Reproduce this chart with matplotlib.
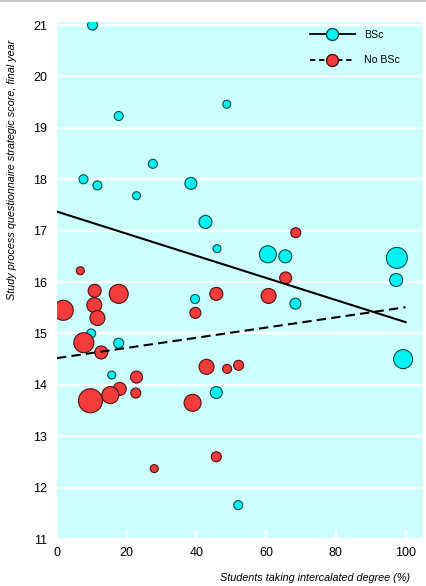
import numpy as np
import matplotlib
matplotlib.use("Agg")
import matplotlib.pyplot as plt
from matplotlib.lines import Line2D

# Intercalated BSc vs strategic score, one bubble per medical school

# BSc students (cyan)
bsc_x = [10.2, 17.7, 48.7, 7.6, 11.6, 27.5, 22.8, 38.4, 42.6, 45.9, 60.5,
         65.5, 97.5, 97.3, 68.4, 39.6, 9.8, 17.7, 15.7, 99.3, 45.7, 52.0]
bsc_y = [21.0, 19.23, 19.46, 18.0, 17.88, 18.30, 17.68, 17.92, 17.17, 16.65, 16.54,
         16.50, 16.47, 16.04, 15.58, 15.67, 15.0, 14.81, 14.19, 14.50, 13.85, 11.66]
bsc_n = [10, 9, 8, 9, 9, 9, 8, 12, 13, 8, 17,
         13, 21, 13, 11, 9, 9, 10, 8, 19, 12, 9]

# No BSc students (red)
nobsc_x = [6.7, 10.8, 17.7, 1.8, 10.7, 11.6, 7.7, 12.7, 22.8, 22.6, 18.0, 15.3,
           9.6, 27.9, 38.9, 45.7, 42.9, 48.8, 52.1, 45.7, 39.7, 60.7, 65.6, 68.5]
nobsc_y = [16.22, 15.83, 15.77, 15.45, 15.55, 15.30, 14.82, 14.63, 14.15, 13.84, 13.92, 13.80,
           13.69, 12.37, 13.65, 12.60, 14.35, 14.31, 14.38, 15.77, 15.40, 15.73, 16.08, 16.96]
nobsc_n = [8, 13, 19, 20, 15, 15, 20, 13, 12, 10, 13, 17,
           24, 8, 17, 10, 15, 9, 10, 13, 11, 15, 12, 10]

# fitted lines (value at 0% and at 100%)
bsc_fit = (17.37, 15.22)
nobsc_fit = (14.52, 15.51)
fit_x = [0, 100]

XTICKS = [0, 20, 40, 60, 80, 100]
YTICKS = [11, 12, 13, 14, 15, 16, 17, 18, 19, 20, 21]

BG = "#ccffff"
CYAN = "#00f2f2"
RED = "#f23c3c"
FONT = ["Liberation Sans Narrow", "Liberation Sans", "DejaVu Sans"]

plt.rcParams["font.family"] = FONT
plt.rcParams["font.size"] = 8

fig = plt.figure(figsize=(4.26, 5.86), dpi=100)
ax = fig.add_axes([57 / 426, 1 - 539 / 586, (423 - 57) / 426, (539 - 22) / 586])
ax.set_facecolor(BG)


def area(d):
    # diameter in px -> marker area in pt^2
    return (np.asarray(d) * 0.72) ** 2


for y in YTICKS:
    ax.axhline(y, color="white", lw=1.6, zorder=1)

ax.scatter(bsc_x, bsc_y, s=area(bsc_n), c=CYAN, edgecolors="#0a4d4d", linewidths=0.8, zorder=3)
ax.scatter(nobsc_x, nobsc_y, s=area(nobsc_n), c=RED, edgecolors="#4d1010", linewidths=0.8, zorder=3)

ax.plot(fit_x, bsc_fit, color="black", lw=1.5, zorder=4)
ax.plot(fit_x, nobsc_fit, color="black", lw=1.5, ls=(0, (4.5, 2.5)), zorder=4)

ax.set_xlim(0, 105)
ax.set_ylim(11, 21.06)
ax.set_xticks(XTICKS)
ax.set_yticks(YTICKS)
ax.tick_params(axis="x", direction="in", color="white", width=1.5, length=6.5, pad=6, labelsize=9)
ax.tick_params(axis="y", length=0, pad=7, labelsize=9)
for s in ax.spines.values():
    s.set_visible(False)

fig.text(12 / 426, 1 - 40 / 586, "Study process questionnaire strategic score, final year",
         rotation=90, ha="center", va="top", style="italic", fontsize=7.8)
fig.text(410 / 426, 1 - 578 / 586, "Students taking intercalated degree (%)",
         ha="right", va="center", style="italic", fontsize=7.8)

# thin grey rule at the very top
fig.add_artist(Line2D([0, 1], [1 - 1 / 586, 1 - 1 / 586], color="#c8c8c8", lw=1.5))

handles = [
    Line2D([], [], color="black", lw=1.3, marker="o", ms=8.6, mfc=CYAN, mec="#0a4d4d"),
    Line2D([], [], color="black", lw=1.3, ls=(0, (3, 2)), marker="o", ms=8.6, mfc=RED, mec="#4d1010"),
]
ax.legend(handles, ["BSc", "No BSc"], loc="upper left", frameon=False,
          bbox_to_anchor=(310 / 426, 1 - 30 / 586), bbox_transform=fig.transFigure,
          borderpad=0, borderaxespad=0, handlelength=4.25, handletextpad=0.85,
          labelspacing=1.45, fontsize=7.6)

fig.savefig("out.png", dpi=100)
